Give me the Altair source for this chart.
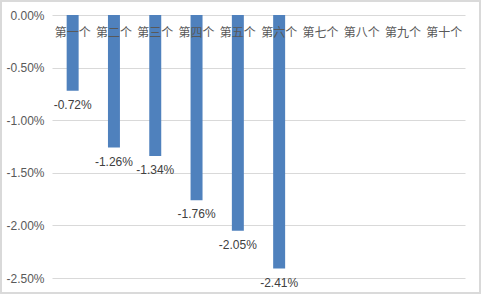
import altair as alt
import pandas as pd

categories = ["第一个", "第二个", "第三个", "第四个", "第五个", "第六个", "第七个", "第八个", "第九个", "第十个"]
values = [-0.0072, -0.0126, -0.0134, -0.0176, -0.0205, -0.0241, None, None, None, None]
y_ticks = [0, -0.005, -0.01, -0.015, -0.02, -0.025]

df = pd.DataFrame({"cat": categories, "val": values})

W, H = 413, 263

x = alt.X("cat:N", sort=categories,
          scale=alt.Scale(domain=categories, paddingInner=0.71, paddingOuter=0.355),
          axis=alt.Axis(orient="top", title=None, domain=False, ticks=False, labelAngle=0,
                        labelPadding=-24, labelFontSize=12, labelColor="#595959",
                        labelFont="Noto Sans CJK SC", grid=False, zindex=1))
y = alt.Y("val:Q", scale=alt.Scale(domain=[-0.025, 0], nice=False, zero=False),
          axis=alt.Axis(title=None, values=y_ticks, domain=False, ticks=False,
                        labelExpr="(datum.value < -0.00001 ? '-' : '') + format(abs(datum.value), '.2%')",
                        labelFontSize=12, labelColor="#595959", labelFont="Liberation Sans",
                        labelPadding=8, gridColor="#d9d9d9", gridWidth=1, zindex=0))

bars = alt.Chart(df).mark_bar(color="#4f81bd").encode(x=x, y=y)

labels = alt.Chart(df).transform_filter("datum.val != null").transform_calculate(
    lbl="(datum.val < 0 ? '-' : '') + format(abs(datum.val), '.2%')"
).mark_text(baseline="top", dy=9, fontSize=12, font="Liberation Sans", color="#404040").encode(
    x=alt.X("cat:N", sort=categories), y="val:Q", text="lbl:N")

border = alt.Chart(df).mark_rect(fill=None, stroke="#d9d9d9", strokeWidth=1.2, clip=False).encode(
    x=alt.value(-51), x2=alt.value(W + 15), y=alt.value(-14), y2=alt.value(H + 15))

chart = alt.layer(bars, labels, border).properties(
    width=W, height=H,
    autosize=alt.AutoSizeParams(type="none"),
    padding={"left": 52, "top": 15, "right": 16, "bottom": 16},
    background="white",
).configure_view(stroke=None)

chart.save("out.html", embed_options={"renderer": "svg", "actions": False})
